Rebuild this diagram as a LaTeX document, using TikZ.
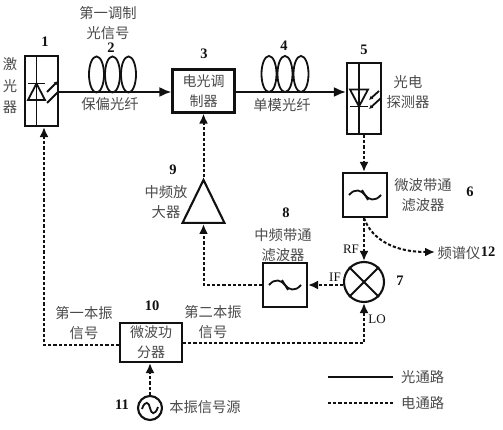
\documentclass[tikz,border=0pt]{standalone}
\usepackage{fontspec}
\setmainfont{Noto Sans CJK SC}
\newfontfamily\latinfont{Liberation Serif}
\usepackage{xcolor}
\usetikzlibrary{arrows.meta,positioning,shapes.geometric,calc}
\definecolor{ink}{HTML}{111111}
\definecolor{muted}{HTML}{4A4A4A}
\tikzset{
  unit/.style={draw=ink,line width=2.1pt,fill=white,inner sep=0pt,align=center,font=\fontsize{14}{20}\selectfont,text=muted},
  coil/.style={draw=ink,line width=1.8pt,ellipse,minimum width=15pt,minimum height=36pt,inner sep=0pt},
  tag/.style={inner sep=0pt,align=center,font=\fontsize{14.3}{20}\selectfont,text=muted},
  num/.style={inner sep=0pt,font=\latinfont\fontsize{14.5}{16}\selectfont\bfseries,text=ink},
  latin/.style={inner sep=0pt,font=\latinfont\fontsize{13}{14}\selectfont,text=ink},
  optical/.style={-{Latex[length=12pt,width=10pt]},line width=2.1pt,draw=ink},
  electric/.style={-{Latex[length=10pt,width=9pt]},line width=2pt,draw=ink,dash pattern=on 3.2pt off 2pt},
  plainelec/.style={line width=2pt,draw=ink,dash pattern=on 3.2pt off 2pt},
  thin/.style={line width=1.8pt,draw=ink}
}
\begin{document}
\begin{tikzpicture}[x=1pt,y=-1pt]
  \useasboundingbox (0,0) rectangle (503,430);

  % optical branch
  \node[unit,minimum width=33pt,minimum height=70pt] (laser) at (41.5,91) {};
  \node[unit,minimum width=62pt,minimum height=43pt] (mod) at (203.5,91) {电光调\\制器};
  \node[unit,minimum width=34pt,minimum height=71pt] (pd) at (364,98.5) {};
  \node[coil] (c1) at (96.5,74.5) {};
  \node[coil,right=-0.8pt of c1] (c2) {};
  \node[coil,right=-0.8pt of c2] (c3) {};
  \node[coil] (c4) at (269,74) {};
  \node[coil,right=-0.8pt of c4] (c5) {};
  \node[coil,right=-0.8pt of c5] (c6) {};
  \coordinate (fiber) at (0,92);
  \draw[optical] (laser.east |- fiber) -- (mod.west |- fiber);
  \draw[optical] (mod.east |- fiber) -- (pd.west |- fiber);

  % laser diode
  \draw[thin] (36.5,56) -- (36.5,126);
  \draw[thin] (28,83.5) -- (45,83.5);
  \draw[thin] (36.5,83.5) -- (28,100) -- (45,100) -- cycle;
  \draw[thin,-{Latex[length=4pt,width=4pt]}] (47,92) -- (58,81);
  \draw[thin] (47,103) -- (58,92);
  % photodiode
  \draw[thin] (359,63) -- (359,134);
  \draw[thin] (350,106.5) -- (368,106.5);
  \draw[thin] (359,106.5) -- (350,89.5) -- (368,89.5) -- cycle;
  \draw[thin,-{Latex[length=4pt,width=4pt]}] (379,91) -- (369,100);
  \draw[thin,-{Latex[length=4pt,width=4pt]}] (381,98) -- (369,109);

  % microwave branch
  \node[unit,minimum width=44pt,minimum height=44pt] (bpf) at (365,195) {};
  \node[circle,draw=ink,line width=2.1pt,fill=white,minimum size=40pt,inner sep=0pt] (mix) at (364,282) {};
  \draw[line width=2.1pt,draw=ink] (mix.north west) -- (mix.south east);
  \draw[line width=2.1pt,draw=ink] (mix.north east) -- (mix.south west);
  \node[unit,minimum width=44pt,minimum height=44pt] (ifbpf) at (285,285) {};
  \node[draw=ink,line width=2.1pt,fill=white,isosceles triangle,isosceles triangle stretches,shape border rotate=90,inner sep=0pt,minimum width=42pt,minimum height=43pt,anchor=lower side] (amp) at (203.5,224) {};
  \node[unit,minimum width=62pt,minimum height=39pt] (split) at (151,342.5) {微波功\\分器};
  \node[circle,draw=ink,line width=2.1pt,fill=white,minimum size=24pt,inner sep=0pt] (src) at (150,408) {};
  \coordinate (specin) at (435,252);
  \coordinate (lasercorner) at (44,345);
  \coordinate (mixcorner) at (364,343);
  \coordinate (ampcorner) at (203.5,285);

  % filter and source glyphs
  \foreach \f in {bpf,ifbpf}{
    \draw[thin] ($(\f.center)+(-16,0)$) .. controls ($(\f.center)+(-10,-7)$) and ($(\f.center)+(-4,-5)$) .. ($(\f.center)+(0,0)$) .. controls ($(\f.center)+(4,5)$) and ($(\f.center)+(10,7)$) .. ($(\f.center)+(16,0)$);
    \draw[thin] ($(\f.center)+(-3,-5)$) -- ($(\f.center)+(3,5)$);
  }
  \draw[thin] ($(src.center)+(-8,1)$) .. controls ($(src.center)+(-5,-8)$) and ($(src.center)+(-1,-6)$) .. (src.center) .. controls ($(src.center)+(1,6)$) and ($(src.center)+(5,8)$) .. ($(src.center)+(8,-1)$);

  \draw[electric] (pd.south) -- (bpf.north -| pd);
  \draw[electric] (bpf.south -| mix) -- (mix.north);
  \draw[electric] (bpf.south -| mix) .. controls (372,240) and (395,252) .. (specin);
  \draw[electric] (mix.west |- ifbpf.east) -- (ifbpf.east);
  \draw[electric] (ifbpf.west) -- (ampcorner) -- (amp.lower side);
  \draw[electric] (amp.apex) -- (mod.south);
  \draw[electric] (src.north) -- (split.south -| src);
  \draw[electric] (split.west |- lasercorner) -- (lasercorner) -- (laser.south -| lasercorner);
  \draw[electric] (split.east |- mixcorner) -- (mixcorner) -- (mix.south);

  % labels
  \node[num] (n1) at (45,42) {1};
  \node[num] (n2) at (111,48) {2};
  \node[num] (n3) at (204,54) {3};
  \node[num] (n4) at (284,46) {4};
  \node[num] (n5) at (364,50) {5};
  \node[num] (n6) at (470,192) {6};
  \node[num] (n7) at (400,281) {7};
  \node[num] (n8) at (286,213) {8};
  \node[num] (n9) at (173,170) {9};
  \node[num] (n10) at (152,306) {10};
  \node[num] (n11) at (122,405) {11};
  \node[num] (n12) at (488,252) {12};
  \node[tag,font=\fontsize{14.3}{21.5}\selectfont] (tlaser) at (10,86) {激\\光\\器};
  \node[tag] (tsig1) at (108,23) {第一调制\\光信号};
  \node[tag] (tpm) at (110,104) {保偏光纤};
  \node[tag] (tsm) at (282,105) {单模光纤};
  \node[tag] (tpd) at (408,92.5) {光电\\探测器};
  \node[tag] (tbpf) at (423,195) {微波带通\\滤波器};
  \node[tag] (tifbpf) at (283,245) {中频带通\\滤波器};
  \node[tag] (tamp) at (166,202) {中频放\\大器};
  \node[tag] (tspec) at (459,253) {频谱仪};
  \node[tag] (tlo1) at (84,323) {第一本振\\信号};
  \node[tag] (tlo2) at (213,322) {第二本振\\信号};
  \node[tag] (tsrc) at (205,407) {本振信号源};
  \node[latin] (trf) at (351,249) {RF};
  \node[latin] (tif) at (335,277) {IF};
  \node[latin] (tlo) at (377,319) {LO};

  % legend
  \coordinate (lega) at (328,377);
  \coordinate (legaend) at (393,377);
  \coordinate (legb) at (328,403);
  \coordinate (legbend) at (393,403);
  \node[tag,anchor=west] (topt) at (401,377) {光通路};
  \node[tag,anchor=west] (telec) at (401,403) {电通路};
  \draw[line width=2pt,draw=ink] (lega) -- (legaend);
  \draw[plainelec] (legb) -- (legbend);
\end{tikzpicture}
\end{document}
